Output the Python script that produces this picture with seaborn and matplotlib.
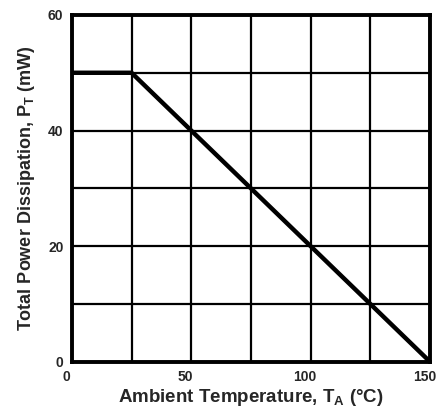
import matplotlib
matplotlib.use("Agg")
import matplotlib.pyplot as plt
import matplotlib.transforms as mtransforms
import seaborn as sns
import pandas as pd

# derating curve
temp_c = [0, 25, 150]
power_mw = [50, 50, 0]
x_ticks = [0, 50, 100, 150]
y_ticks = [0, 20, 40, 60]

sns.set_theme(style="white")
plt.rcParams['font.family'] = ['Liberation Sans', 'DejaVu Sans']
plt.rcParams['font.weight'] = 'bold'
plt.rcParams['mathtext.default'] = 'regular'

df = pd.DataFrame({'temp': temp_c, 'power': power_mw})

fig = plt.figure(figsize=(4.38, 4.15), dpi=100)
ax = fig.add_axes([0.164, 0.128, 0.818, 0.836])

sns.lineplot(data=df, x='temp', y='power', color='black', linewidth=3.2, ax=ax)

ax.set_xlim(0, 150)
ax.set_ylim(0, 60)
ax.set_xticks(range(0, 151, 25))
ax.set_yticks(range(0, 61, 10))
ax.set_xticklabels([str(v) if v in x_ticks else '' for v in range(0, 151, 25)])
ax.set_yticklabels([str(v) if v in y_ticks else '' for v in range(0, 61, 10)])
ax.grid(True, color='black', linewidth=1.6)
ax.tick_params(length=0, labelsize=10, pad=6)
# scanned labels sit a little left of the grid lines
shift = mtransforms.ScaledTranslation(-4 / 72, 0, fig.dpi_scale_trans)
for lab in ax.get_xticklabels():
    lab.set_fontweight('bold')
    lab.set_transform(lab.get_transform() + shift)
for lab in ax.get_yticklabels():
    lab.set_fontweight('bold')
for s in ax.spines.values():
    s.set_linewidth(2.8)
    s.set_color('black')

ax.set_xlabel('Ambient Temperature, T$_A$ (°C)', fontsize=13.5, fontweight='bold', labelpad=2)
ax.set_ylabel('Total Power Dissipation, P$_T$ (mW)', fontsize=13, fontweight='bold', labelpad=8)

fig.savefig('out.png', dpi=100)
